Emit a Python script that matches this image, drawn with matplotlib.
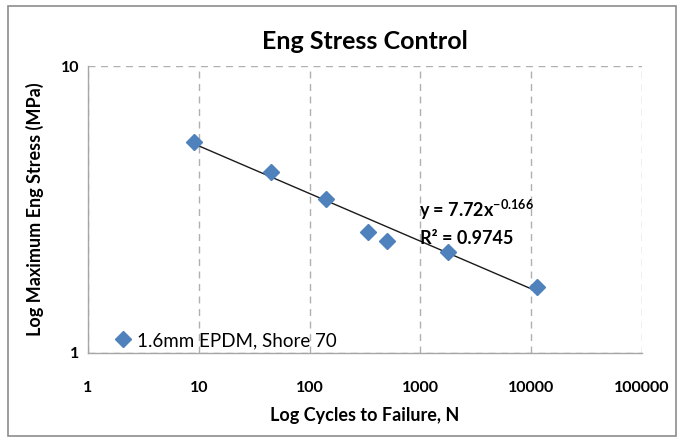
import matplotlib.pyplot as plt
from matplotlib.patches import Rectangle

plt.rcParams['font.family'] = ['Lato', 'DejaVu Sans']

# cycles to failure and max engineering stress (MPa)
cycles = [9.05, 44.8, 140, 334, 502, 1786, 11200]
stress = [5.43, 4.27, 3.44, 2.65, 2.46, 2.24, 1.70]

# power-law fit shown on the chart
fit_a = 7.72
fit_b = -0.166
fit_r2 = 0.9745
fit_x = [9.0, 11000]
fit_y = [fit_a * x ** fit_b for x in fit_x]

x_ticks = [1, 10, 100, 1000, 10000, 100000]
y_ticks = [1, 10]

fig = plt.figure(figsize=(6.83, 4.42), dpi=100)
ax = fig.add_axes([88 / 683, 1 - 353 / 442, (642 - 88) / 683, (353 - 66) / 442])

# chart frame
fig.patches.append(Rectangle((8 / 683, 6 / 442), 668 / 683, 430 / 442,
                             transform=fig.transFigure, fill=False,
                             edgecolor='#8c8c8c', linewidth=1.2))

ax.plot(fit_x, fit_y, color='#1a1a1a', linewidth=1.0, zorder=2)
ax.plot(cycles, stress, linestyle='none', marker='D', markersize=8.5,
        color='#4F81BD', label='1.6mm EPDM, Shore 70', zorder=3)

ax.set_xscale('log')
ax.set_yscale('log')
ax.set_xlim(1, 100000)
ax.set_ylim(1, 10)
ax.set_xticks(x_ticks)
ax.set_xticklabels([str(t) for t in x_ticks])
ax.set_yticks(y_ticks)
ax.set_yticklabels([str(t) for t in y_ticks])
ax.minorticks_off()
ax.tick_params(length=0, labelsize=11.5, pad=6)
ax.tick_params(axis='x', pad=20)
for lab in ax.get_xticklabels() + ax.get_yticklabels():
    lab.set_fontweight('bold')

ax.grid(True, which='major', color='#b0b0b0', linestyle=(0, (5, 4)), linewidth=1.0)
ax.set_axisbelow(True)
for side in ['top', 'right']:
    ax.spines[side].set_visible(False)
for side in ['left', 'bottom']:
    ax.spines[side].set_color('#a6a6a6')
    ax.spines[side].set_linewidth(1.0)

ax.set_title('Eng Stress Control', fontsize=18, fontweight='bold', pad=12)
ax.set_xlabel('Log Cycles to Failure, N', fontsize=13, fontweight='bold', labelpad=9)
ax.set_ylabel('Log Maximum Eng Stress (MPa)', fontsize=13, fontweight='bold', labelpad=12)

ax.text(0.597, 0.50, r'y = 7.72x$^{\mathregular{-0.166}}$', transform=ax.transAxes,
        ha='left', va='center', fontsize=13, fontweight='bold')
ax.text(0.6, 0.40, 'R² = %.4f' % fit_r2, transform=ax.transAxes,
        ha='left', va='center', fontsize=13, fontweight='bold')

ax.legend(loc='lower left', bbox_to_anchor=(0.02, -0.025), frameon=False,
          fontsize=13.5, handletextpad=0.1, borderaxespad=0.2,
          markerscale=0.9, handlelength=1.3)

fig.savefig('out.png', dpi=100)
